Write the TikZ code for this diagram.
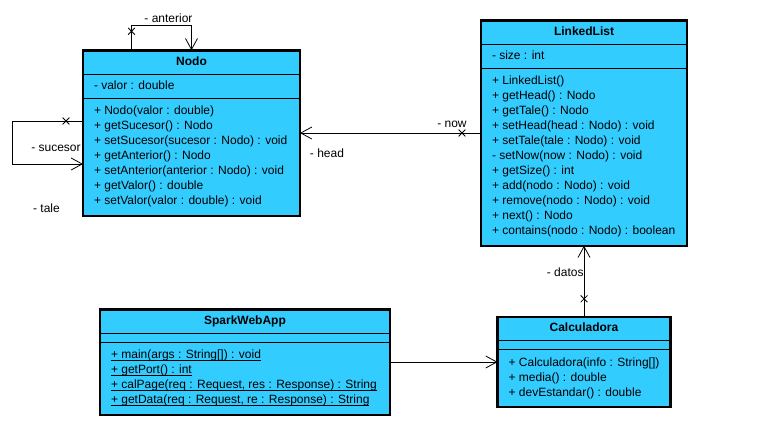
\documentclass[tikz,border=0pt]{standalone}
\usepackage{fontspec}
\setmainfont{Liberation Sans}
\usetikzlibrary{arrows.meta,shapes.multipart,shapes.misc}

\definecolor{classblue}{RGB}{51,204,255}
\newcommand{\rowstrut}{\rule[-8.5pt]{0pt}{23pt}}
\newcommand{\noattr}{\rule[-4pt]{0pt}{8pt}}
\newcommand{\firstm}{\rule{0pt}{16.5pt}}
\newcommand{\lastm}{\rule[-10.5pt]{0pt}{10.5pt}}
\newcommand{\members}[1]{\begin{tabular}{@{}l@{}}#1\end{tabular}}
\newcommand{\static}[1]{\underline{\smash{#1}}}

\begin{document}
\begin{tikzpicture}[>={Straight Barb[length=11pt,width=12pt]},font=\fontsize{12}{15}\selectfont]
        \tikzstyle{umlclass}=[rectangle split, rectangle split parts=3, draw=black, line width=0.8pt, fill=classblue, rectangle split part align={center,left,left}, inner xsep=11pt, inner ysep=0pt, outer sep=0pt]
        \tikzstyle{frame}=[line width=2.4pt]
        \tikzstyle{assoc}=[->, line width=0.8pt]
        \tikzstyle{xmark}=[cross out, draw=black, line width=0.8pt, minimum size=6pt, inner sep=0pt]
        \tikzstyle{role}=[inner sep=1pt]

        \useasboundingbox (0,0) rectangle (765pt,-432pt);

        \node[umlclass, minimum width=217pt] (nodo) at (191.5pt,-133pt)
        {\rowstrut\textbf{Nodo}%
        \nodepart{two}\rowstrut- valor : double%
        \nodepart{three}\members{\firstm+ Nodo(valor : double)\\
        + getSucesor() : Nodo\\
        + setSucesor(sucesor : Nodo) : void\\
        + getAnterior() : Nodo\\
        + setAnterior(anterior : Nodo) : void\\
        + getValor() : double\\
        + setValor(valor : double) : void\lastm}};
        \node[umlclass, minimum width=206pt] (list) [right of=nodo, node distance=392.5pt]
        {\rowstrut\textbf{LinkedList}%
        \nodepart{two}\rowstrut- size : int%
        \nodepart{three}\members{\firstm+ LinkedList()\\
        + getHead() : Nodo\\
        + getTale() : Nodo\\
        + setHead(head : Nodo) : void\\
        + setTale(tale : Nodo) : void\\
        - setNow(now : Nodo) : void\\
        + getSize() : int\\
        + add(nodo : Nodo) : void\\
        + remove(nodo : Nodo) : void\\
        + next() : Nodo\\
        + contains(nodo : Nodo) : boolean\lastm}};
        \node[umlclass, minimum width=172pt] (calc) [below of=list, node distance=229pt]
        {\rowstrut\textbf{Calculadora}%
        \nodepart{two}\noattr\nodepart{three}\members{\firstm+ Calculadora(info : String[])\\
        + media() : double\\
        + devEstandar() : double\lastm}};
        \node[umlclass, minimum width=290pt] (spark) [left of=calc, node distance=339pt]
        {\rowstrut\textbf{SparkWebApp}%
        \nodepart{two}\noattr\nodepart{three}\members{\firstm\static{+ main(args : String[]) : void}\\
        \static{+ getPort() : int}\\
        \static{+ calPage(req : Request, res : Response) : String}\\
        \static{+ getData(req : Request, re : Response) : String}\lastm}};

        \draw[frame] (nodo.north west) rectangle (nodo.south east);
        \draw[frame] (list.north west) rectangle (list.south east);
        \draw[frame] (calc.north west) rectangle (calc.south east);
        \draw[frame] (spark.north west) rectangle (spark.south east);

        % self associations of Nodo
        \draw[assoc] ([xshift=-60pt]nodo.north) -- node[xmark, at start, yshift=19pt] {} ++(0,25pt)
        -| node[role, at end, xshift=-23pt, yshift=32pt] {- anterior} (nodo.north);
        \draw[assoc] ([yshift=12pt]nodo.west) -- node[xmark, at start, xshift=-17pt] {} ++(-71pt,0)
        |- node[role, at end, xshift=-27pt, yshift=16pt] {- sucesor} ([yshift=-31pt]nodo.west);
        \node[role] (tale) at ([xshift=-36.5pt,yshift=-75pt]nodo.west) {- tale};

        \draw[assoc] (list.west) -- node[xmark, at start, xshift=-19pt] {}
        node[role, at start, xshift=-29pt, yshift=9pt] {- now}
        node[role, at end, xshift=27pt, yshift=-20pt] {- head} (nodo.east);
        \draw[assoc] (calc.north) -- node[xmark, at start, yshift=18pt] {}
        node[role, at start, anchor=east, xshift=1pt, yshift=45pt] {- datos} (list.south);
        \draw[assoc] (spark.east |- calc.west) -- (calc.west);
    \end{tikzpicture}
\end{document}
